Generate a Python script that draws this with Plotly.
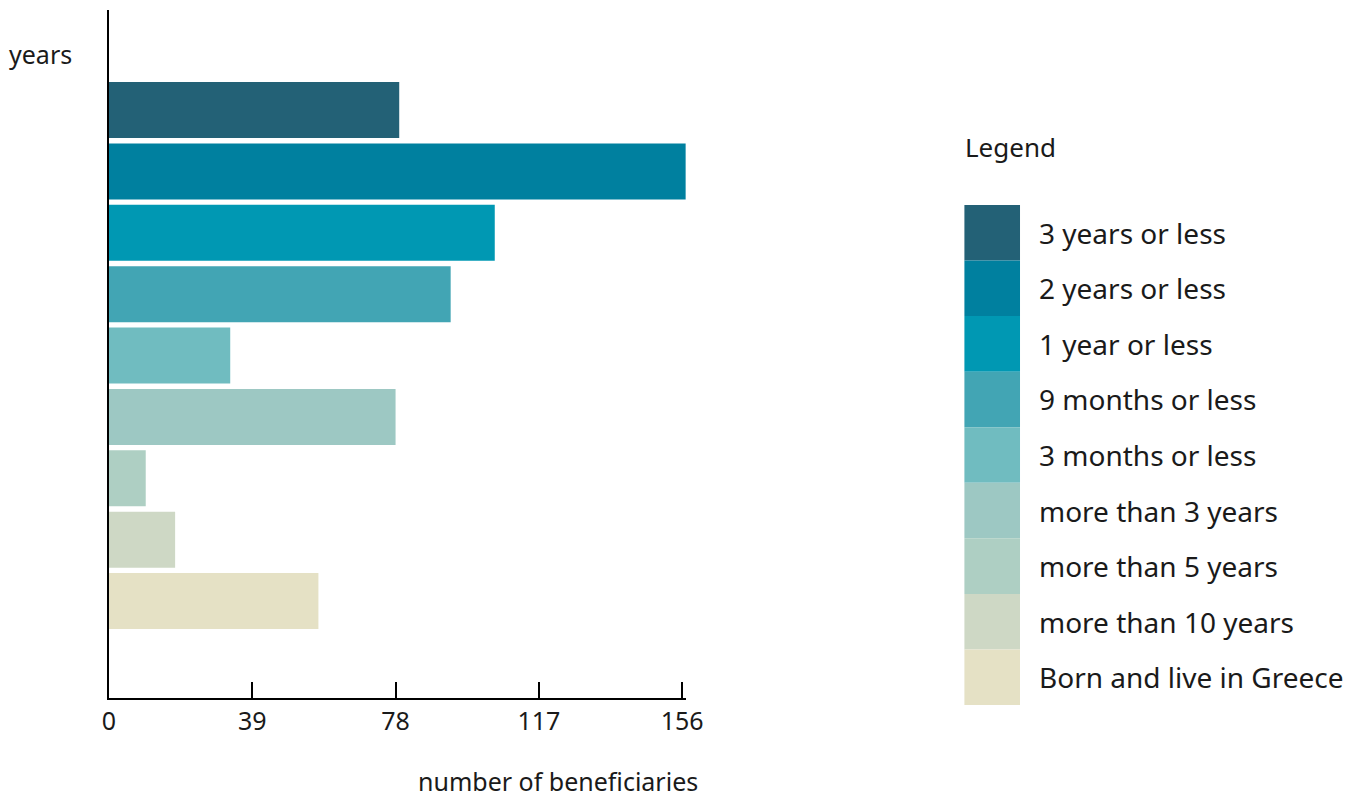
import plotly.graph_objects as go

# ---- data ----
categories = ["3 years or less", "2 years or less", "1 year or less", "9 months or less",
              "3 months or less", "more than 3 years", "more than 5 years",
              "more than 10 years", "Born and live in Greece"]
values = [79, 157, 105, 93, 33, 78, 10, 18, 57]
colors = ["#236176", "#00809F", "#0098B3", "#42A5B4", "#70BCC0",
          "#9DC8C3", "#AECFC3", "#CED8C5", "#E5E1C5"]
x_ticks = [0, 39, 78, 117, 156]

W, H = 1357, 800
FONT = "Noto Sans"
TXT = "#1a1a1a"


def fx(px):
    # horizontal placement (compensated for the observed render scale)
    return ((px - 4.8) / 0.9836) / W


def fy(py):
    return (H - py) / H


fig = go.Figure()

# main bars
fig.add_trace(go.Bar(
    y=categories, x=values, orientation="h",
    marker=dict(color=colors, line=dict(width=0)),
    showlegend=False, hoverinfo="x+y",
    xaxis="x", yaxis="y",
))

# custom legend swatches (stacked column)
n = len(categories)
fig.add_trace(go.Bar(
    x=[0] * n, y=[1] * n, base=list(range(n)), width=1,
    marker=dict(color=colors, line=dict(width=0)),
    showlegend=False, hoverinfo="skip",
    xaxis="x2", yaxis="y2",
))

annotations = []
for i, cat in enumerate(categories):
    annotations.append(dict(
        x=0.5, y=i + 0.5, xref="x2", yref="y2", text=cat, showarrow=False,
        xanchor="left", yanchor="middle", xshift=17,
        font=dict(family=FONT, size=28, color=TXT),
    ))

annotations.append(dict(
    x=fx(963), y=fy(147), xref="paper", yref="paper", text="Legend",
    showarrow=False, xanchor="left", yanchor="middle",
    font=dict(family=FONT, size=26, color=TXT),
))
annotations.append(dict(
    x=fx(5), y=fy(54), xref="paper", yref="paper", text="years",
    showarrow=False, xanchor="left", yanchor="middle",
    font=dict(family=FONT, size=25, color=TXT),
))
annotations.append(dict(
    x=fx(699), y=fy(800), xref="paper", yref="paper", text="number of beneficiaries",
    showarrow=False, xanchor="right", yanchor="bottom",
    font=dict(family=FONT, size=25, color=TXT),
))

fig.update_layout(
    width=W, height=H,
    margin=dict(l=0, r=0, t=0, b=0),
    paper_bgcolor="white", plot_bgcolor="white",
    bargap=0.088,
    font=dict(family=FONT, size=25, color=TXT),
    xaxis=dict(
        domain=[fx(107), fx(685)], range=[0, 157],
        tickmode="array", tickvals=x_ticks, ticktext=[str(t) for t in x_ticks],
        ticks="inside", ticklen=16, tickwidth=2, tickcolor="black",
        showline=True, linewidth=2, linecolor="black",
        showgrid=False, zeroline=False, ticklabelstandoff=0,
        tickfont=dict(family=FONT, size=25, color=TXT),
        anchor="y", fixedrange=True,
    ),
    yaxis=dict(
        domain=[fy(698), fy(10)], type="category",
        categoryorder="array", categoryarray=categories,
        range=[9.58, -1.63],
        showline=True, linewidth=2, linecolor="black",
        showticklabels=False, ticks="", showgrid=False, zeroline=False,
        anchor="x", fixedrange=True,
    ),
    xaxis2=dict(
        domain=[fx(964), fx(1020)], range=[-0.5, 0.5], visible=False,
        anchor="y2", fixedrange=True,
    ),
    yaxis2=dict(
        domain=[fy(705), fy(205)], range=[n, 0], visible=False,
        anchor="x2", fixedrange=True,
    ),
    annotations=annotations,
)

fig.write_html(
    "out.html",
    config={"displayModeBar": False},
    post_script="document.body.style.margin='0';document.body.style.overflow='hidden';",
)
